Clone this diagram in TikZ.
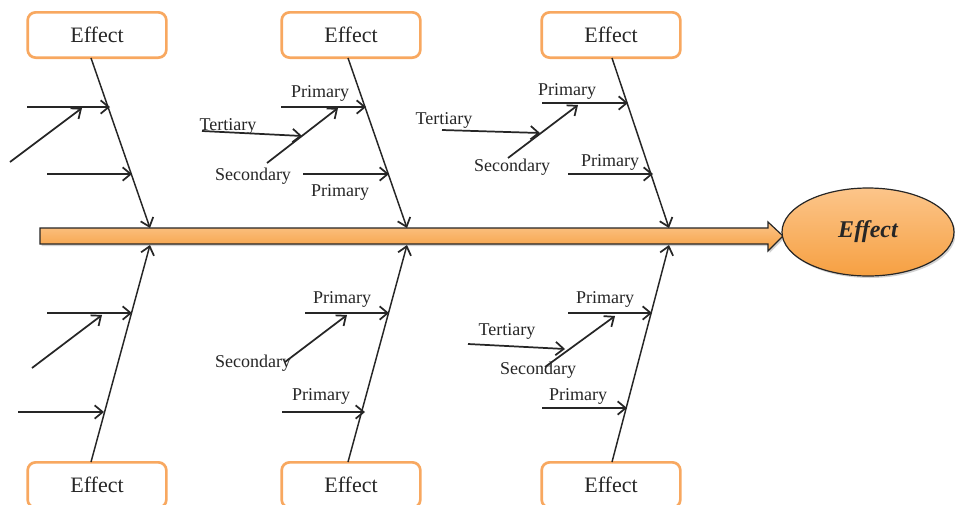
\documentclass[tikz,border=0pt]{standalone}
\usepackage{fontspec}
\setmainfont{Liberation Serif}
\usetikzlibrary{arrows.meta,shapes.geometric,shadows}
\definecolor{boxor}{HTML}{F8A860}
\definecolor{ink}{HTML}{262626}
\definecolor{orlight}{HTML}{FCC58A}
\definecolor{ordark}{HTML}{F6A042}
\begin{document}
\begin{tikzpicture}[x=0.75pt,y=-0.75pt,
  effbox/.style={draw=boxor, line width=2pt, rounded corners=6pt, fill=white,
    minimum width=104pt, minimum height=34pt, inner sep=0pt,
    font=\fontsize{16.5}{18}\selectfont, text=ink},
  lbl/.style={font=\fontsize{13.5}{15}\selectfont, inner sep=0pt, text=ink},
  rib/.style={draw=ink, line width=1.1pt, -{Straight Barb[length=6pt,width=10pt,line width=1.3pt]}},
  cause/.style={draw=ink, line width=1.3pt, -{Straight Barb[length=6pt,width=10pt,line width=1.3pt]}},
  shad/.style={drop shadow={opacity=0.35, shadow xshift=1.2pt, shadow yshift=-1.5pt}}
]
\clip (0,0) rectangle (955,504);
\fill[white] (0,0) rectangle (955,504);

% spine arrow
\path[shad, draw=ink, line width=0.9pt, top color=orlight, bottom color=ordark, line join=miter]
  (40,228) -- (768,228) -- (768,222) -- (783,236) -- (768,251) -- (768,244) -- (40,244) -- cycle;

% head ellipse
\node[shad, ellipse, draw=ink, line width=0.9pt, top color=orlight, bottom color=ordark,
  minimum width=129pt, minimum height=66pt, inner sep=0pt,
  font=\fontsize{18}{20}\selectfont\bfseries\itshape, text=ink] (eff) at (868,232) {Effect};

% effect boxes
\node[effbox] (b1t) at (97,35) {Effect};
\node[effbox] (b2t) at (351,35) {Effect};
\node[effbox] (b3t) at (611,35) {Effect};
\node[effbox] (b1b) at (97,485) {Effect};
\node[effbox] (b2b) at (351,485) {Effect};
\node[effbox] (b3b) at (611,485) {Effect};

% rib coordinates
\coordinate (r1ts) at (91,58);  \coordinate (r1te) at (150,228);
\coordinate (r2ts) at (348,58); \coordinate (r2te) at (407,228);
\coordinate (r3ts) at (612,58); \coordinate (r3te) at (669,228);
\coordinate (r1bs) at (91,462);  \coordinate (r1be) at (150,245);
\coordinate (r2bs) at (348,462); \coordinate (r2be) at (407,245);
\coordinate (r3bs) at (612,462); \coordinate (r3be) at (669,245);

\draw[rib] (r1ts) -- (r1te);
\draw[rib] (r2ts) -- (r2te);
\draw[rib] (r3ts) -- (r3te);
\draw[rib] (r1bs) -- (r1be);
\draw[rib] (r2bs) -- (r2be);
\draw[rib] (r3bs) -- (r3be);

% ---------- top rib 1 ----------
\coordinate (a1) at (27,107);  \coordinate (a1e) at (110,107);
\coordinate (a2) at (10,162);  \coordinate (a2e) at (82,108);
\coordinate (a3) at (47,174);  \coordinate (a3e) at (132,174);
\draw[cause] (a1) -- (a1e);
\draw[cause] (a2) -- (a2e);
\draw[cause] (a3) -- (a3e);

% ---------- top rib 2 ----------
\coordinate (b1) at (281,107); \coordinate (b1e) at (366,107);
\coordinate (b2) at (267,163); \coordinate (b2e) at (338,108);
\coordinate (b3) at (202,131); \coordinate (b3e) at (302,136);
\coordinate (b4) at (303,174); \coordinate (b4e) at (389,174);
\draw[cause] (b1) -- (b1e);
\draw[cause] (b2) -- (b2e);
\draw[cause] (b3) -- (b3e);
\draw[cause] (b4) -- (b4e);
\node[lbl] (lb1) at (320,93) {Primary};
\node[lbl] (lb2) at (253,176) {Secondary};
\node[lbl] (lb3) at (228,126) {Tertiary};
\node[lbl] (lb4) at (340,192) {Primary};

% ---------- top rib 3 ----------
\coordinate (c1) at (542,103); \coordinate (c1e) at (628,103);
\coordinate (c2) at (508,158); \coordinate (c2e) at (578,105);
\coordinate (c3) at (442,130); \coordinate (c3e) at (540,133);
\coordinate (c4) at (568,174); \coordinate (c4e) at (653,174);
\draw[cause] (c1) -- (c1e);
\draw[cause] (c2) -- (c2e);
\draw[cause] (c3) -- (c3e);
\draw[cause] (c4) -- (c4e);
\node[lbl] (lc1) at (567,91) {Primary};
\node[lbl] (lc2) at (512,167) {Secondary};
\node[lbl] (lc3) at (444,120) {Tertiary};
\node[lbl] (lc4) at (610,162) {Primary};

% ---------- bottom rib 1 ----------
\coordinate (d1) at (47,313);  \coordinate (d1e) at (132,313);
\coordinate (d2) at (32,368);  \coordinate (d2e) at (102,315);
\coordinate (d3) at (18,412);  \coordinate (d3e) at (104,412);
\draw[cause] (d1) -- (d1e);
\draw[cause] (d2) -- (d2e);
\draw[cause] (d3) -- (d3e);

% ---------- bottom rib 2 ----------
\coordinate (e1) at (305,313); \coordinate (e1e) at (389,313);
\coordinate (e2) at (285,362); \coordinate (e2e) at (347,315);
\coordinate (e3) at (282,412); \coordinate (e3e) at (365,412);
\draw[cause] (e1) -- (e1e);
\draw[cause] (e2) -- (e2e);
\draw[cause] (e3) -- (e3e);
\node[lbl] (le1) at (342,299) {Primary};
\node[lbl] (le2) at (253,363) {Secondary};
\node[lbl] (le3) at (321,396) {Primary};

% ---------- bottom rib 3 ----------
\coordinate (f1) at (568,313); \coordinate (f1e) at (652,313);
\coordinate (f2) at (545,367); \coordinate (f2e) at (615,316);
\coordinate (f3) at (468,344); \coordinate (f3e) at (565,349);
\coordinate (f4) at (542,408); \coordinate (f4e) at (627,408);
\draw[cause] (f1) -- (f1e);
\draw[cause] (f2) -- (f2e);
\draw[cause] (f3) -- (f3e);
\draw[cause] (f4) -- (f4e);
\node[lbl] (lf1) at (605,299) {Primary};
\node[lbl] (lf2) at (538,370) {Secondary};
\node[lbl] (lf3) at (507,331) {Tertiary};
\node[lbl] (lf4) at (578,396) {Primary};
\end{tikzpicture}
\end{document}
